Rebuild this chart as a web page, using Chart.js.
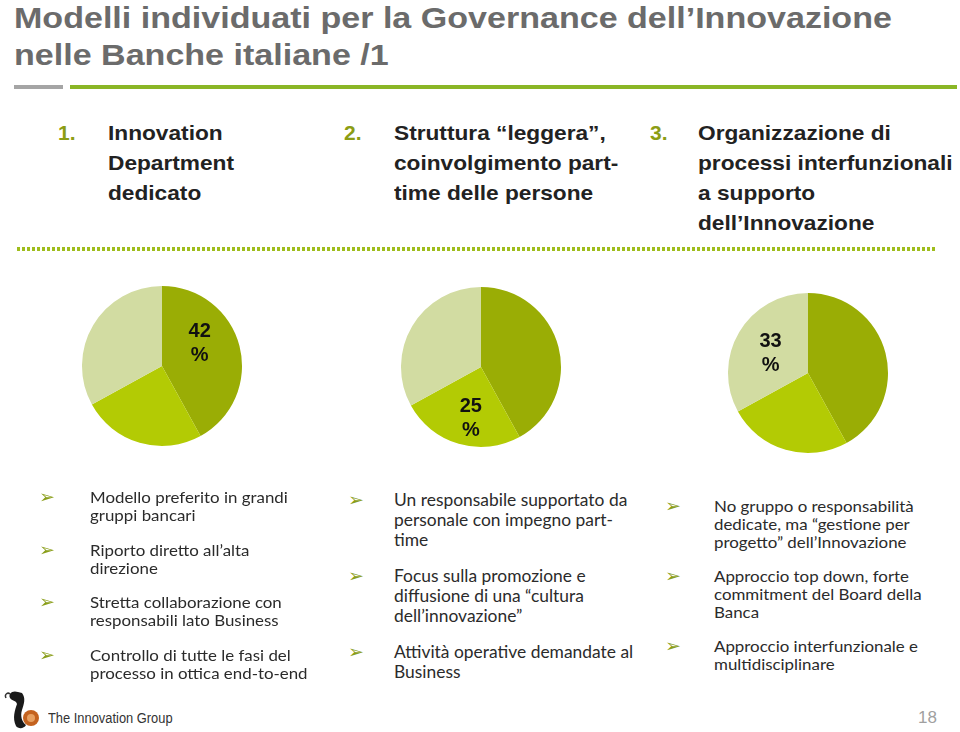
<!DOCTYPE html>
<html>
<head>
<meta charset="utf-8">
<script src="https://cdn.jsdelivr.net/npm/chart.js@4.4.1/dist/chart.umd.min.js"></script>
<style>
  html, body { margin: 0; padding: 0; background: #fff; }
  body { width: 960px; height: 732px; position: relative; overflow: hidden; font-family: "Liberation Sans", Arial, sans-serif; }
  .abs { position: absolute; }
  #title { left: 14px; top: -1px; font-weight: bold; font-size: 30px; line-height: 37px; color: #6b6b6b; white-space: nowrap; transform: scaleX(1.135); transform-origin: left top; }
  .rule { height: 4px; top: 85px; }
  .head { font-weight: bold; font-size: 21px; line-height: 30px; color: #222; white-space: nowrap; transform: scaleX(1.08); transform-origin: left top; }
  .num { font-weight: bold; font-size: 21px; line-height: 30px; color: #8c9d14; }
  #dots { left: 17px; top: 247px; width: 920px; height: 4px; background: repeating-linear-gradient(90deg, #9fbd1c 0 3px, transparent 3px 5px); }
  .pie { position: absolute; width: 164px; height: 164px; }
  .bullets { position: absolute; font-family: Lato, "Open Sans", sans-serif; color: #2b2b2b; transform: scaleX(1.055); transform-origin: left top; }
  .bullets .item { position: relative; }
  .bullets .arrow { position: absolute; color: #8a9e1a; font-family: "DejaVu Sans", sans-serif; }
  #footer { left: 48px; top: 710px; font-size: 14px; color: #333; transform: scaleX(0.92); transform-origin: left top; }
  #page { left: 918px; top: 708px; font-size: 17px; color: #a0a0a0; }
</style>
</head>
<body>
<div id="title" class="abs">Modelli individuati per la Governance dell’Innovazione<br>nelle Banche italiane /1</div>
<div class="abs rule" style="left:14px;width:49px;background:#a5a5a5"></div>
<div class="abs rule" style="left:70px;width:887px;background:#8ab626"></div>

<div id="heads"></div>
<div id="dots" class="abs"></div>

<canvas id="pie0" class="pie" width="164" height="164" style="left:80px;top:284px"></canvas>
<canvas id="pie1" class="pie" width="164" height="164" style="left:399px;top:285px"></canvas>
<canvas id="pie2" class="pie" width="164" height="164" style="left:726px;top:291px"></canvas>

<div id="cols"></div>

<svg class="abs" style="left:4px;top:688px" width="40" height="42" viewBox="0 0 40 42">
  <path d="M14 4 C8 2 4 6 6 10 C8 13 12 12 13 16 C11 22 8 30 12 38 C14 41 20 41 22 37 C18 34 16 28 18 22 C20 16 22 10 18 5 Z" fill="#1a1a1a"/>
  <circle cx="27" cy="30" r="8" fill="#c4621e"/>
  <circle cx="27" cy="30" r="4" fill="#e8a060"/>
  <path d="M2 10 C0 6 4 4 6 6" stroke="#333" stroke-width="1.5" fill="none"/>
</svg>
<div id="footer" class="abs">The Innovation Group</div>
<div id="page" class="abs">18</div>

<script>
// pie data (same split shown on each chart, one slice highlighted)
const sliceNames = ['Innovation Department dedicato', 'Struttura leggera', 'Processi interfunzionali'];
const sliceValues = [42, 25, 33];
const sliceColors = ['#9aad05', '#b3cb04', '#d2dca2'];
const highlighted = [0, 1, 2];

// headers above the pies
const headNums = ['1.', '2.', '3.'];
const headLines = [
  ['Innovation', 'Department', 'dedicato'],
  ['Struttura “leggera”,', 'coinvolgimento part-', 'time delle persone'],
  ['Organizzazione di', 'processi  interfunzionali', 'a supporto', 'dell’Innovazione']
];

// bullet texts below the pies
const bulletsCol1 = [
  ['Modello preferito in grandi', 'gruppi bancari'],
  ['Riporto diretto all’alta', 'direzione'],
  ['Stretta collaborazione con', 'responsabili lato Business'],
  ['Controllo di tutte le fasi del', 'processo in ottica end-to-end']
];
const bulletsCol2 = [
  ['Un responsabile supportato da', 'personale con impegno part-', 'time'],
  ['Focus sulla promozione e', 'diffusione di una “cultura', 'dell’innovazione”'],
  ['Attività operative demandate al', 'Business']
];
const bulletsCol3 = [
  ['No gruppo o responsabilità', 'dedicate, ma “gestione per', 'progetto” dell’Innovazione'],
  ['Approccio top down, forte', 'commitment del Board della', 'Banca'],
  ['Approccio interfunzionale e', 'multidisciplinare']
];

// layout for the text blocks
const textScale = 1.055;
const headPos = [{ n: 58, t: 108 }, { n: 344, t: 394 }, { n: 650, t: 698 }];
const colStyle = [
  { data: bulletsCol1, left: 90, arrow: 39, top: 488, size: 16, lh: 18, gap: 16.5 },
  { data: bulletsCol2, left: 394, arrow: 348, top: 490, size: 16.5, lh: 20, gap: 16 },
  { data: bulletsCol3, left: 714, arrow: 665, top: 497, size: 16, lh: 18, gap: 16 }
];
const labelNudge = [{ x: -1, y: -13 }, { x: 1, y: 13 }, { x: -3, y: 1 }];

const heads = document.getElementById('heads');
headLines.forEach((lines, i) => {
  const n = document.createElement('div');
  n.className = 'abs num';
  n.style.left = headPos[i].n + 'px';
  n.style.top = '118px';
  n.textContent = headNums[i];
  heads.appendChild(n);
  const t = document.createElement('div');
  t.className = 'abs head';
  t.style.left = headPos[i].t + 'px';
  t.style.top = '118px';
  t.innerHTML = lines.join('<br>');
  heads.appendChild(t);
});

const cols = document.getElementById('cols');
colStyle.forEach(c => {
  const box = document.createElement('div');
  box.className = 'bullets';
  box.style.left = c.left + 'px';
  box.style.top = c.top + 'px';
  box.style.fontSize = c.size + 'px';
  box.style.lineHeight = c.lh + 'px';
  c.data.forEach((lines, k) => {
    const it = document.createElement('div');
    it.className = 'item';
    it.style.marginBottom = c.gap + 'px';
    it.style.whiteSpace = 'nowrap';
    // arrow sits in the scaled box, so divide its offset by the scale
    const off = (c.arrow - c.left) / textScale;
    it.innerHTML = '<span class="arrow" style="left:' + off + 'px;font-size:18px">➢</span>' + lines.join('<br>');
    box.appendChild(it);
  });
  cols.appendChild(box);
});

const pctLabel = {
  id: 'pctLabel',
  afterDatasetsDraw(chart, args, opts) {
    const ctx = chart.ctx;
    const idx = opts.index;
    const arc = chart.getDatasetMeta(0).data[idx];
    const pos = arc.tooltipPosition();
    const x = pos.x + opts.nudge.x;
    const y = pos.y + opts.nudge.y;
    ctx.save();
    ctx.fillStyle = '#111';
    ctx.font = 'bold 20px "Liberation Sans", Arial, sans-serif';
    ctx.textAlign = 'center';
    ctx.textBaseline = 'middle';
    ctx.fillText(String(chart.data.datasets[0].data[idx]), x, y - 12);
    ctx.fillText('%', x, y + 12);
    ctx.restore();
  }
};

highlighted.forEach((idx, i) => {
  new Chart(document.getElementById('pie' + i), {
    type: 'pie',
    data: {
      labels: sliceNames,
      datasets: [{
        data: sliceValues,
        backgroundColor: sliceColors,
        borderWidth: 0
      }]
    },
    options: {
      responsive: false,
      animation: false,
      devicePixelRatio: 1,
      layout: { padding: 2 },
      plugins: {
        legend: { display: false },
        tooltip: { enabled: false },
        pctLabel: { index: idx, nudge: labelNudge[i] }
      }
    },
    plugins: [pctLabel]
  });
});
</script>
</body>
</html>
